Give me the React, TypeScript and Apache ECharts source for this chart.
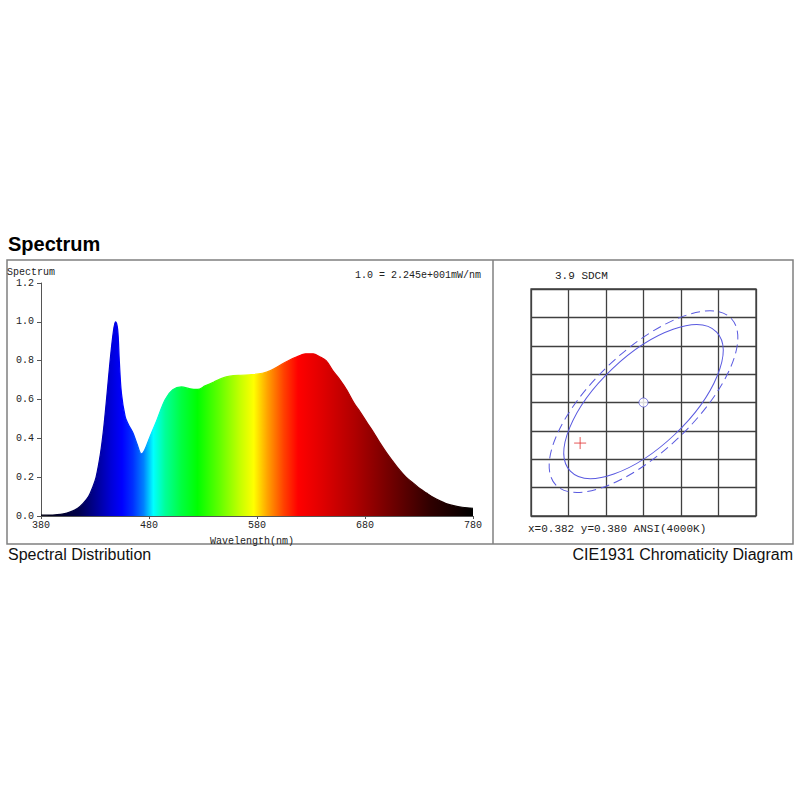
import { useEffect, useRef } from 'react';
import * as echarts from 'echarts';

// Relative spectral power (1.0 = 2.245e+001 mW/nm)
const wavelengths = [
  380, 390, 398, 404, 409, 414, 419, 424, 428, 431, 435, 438, 441, 444, 447, 449, 451, 452.5, 454.5, 458,
  461, 465, 469, 473, 476, 481, 487, 495, 502, 510, 518, 525, 532, 540, 548, 555, 565, 575, 585, 593,
  601, 609, 617, 625, 632, 638, 644, 650, 657, 663, 670, 675, 682, 688, 694, 700, 706, 712, 718, 725,
  731, 737, 743, 749, 755, 762, 770, 780,
];
const relativePower = [
  0.004, 0.005, 0.008, 0.015, 0.025, 0.04, 0.065, 0.1, 0.15, 0.2, 0.32, 0.45, 0.62, 0.8, 0.95, 1.0, 0.96, 0.8, 0.63, 0.51,
  0.47, 0.43, 0.37, 0.32, 0.34, 0.41, 0.49, 0.6, 0.65, 0.665, 0.655, 0.652, 0.67, 0.69, 0.71, 0.72, 0.725, 0.728, 0.735, 0.75,
  0.775, 0.8, 0.82, 0.835, 0.835, 0.82, 0.8, 0.75, 0.7, 0.65, 0.58, 0.54, 0.48, 0.43, 0.375, 0.325, 0.28, 0.237, 0.2, 0.168,
  0.14, 0.118, 0.097, 0.079, 0.064, 0.053, 0.045, 0.04,
];

const yTicks = [0, 0.2, 0.4, 0.6, 0.8, 1.0, 1.2];
const xTicks = [380, 480, 580, 680, 780];

// Chromaticity panel, in grid-cell units (6 x 8 cells, target at the centre)
// each ellipse: [centreX, centreY, majorEndX, majorEndY, minorEndX, minorEndY]
const innerEllipse = [3, 4.03, 4.95, 6.48, 3.83, 2.87];
const outerEllipse = [3, 4.03, 5.34, 6.96, 3.92, 2.74];
const targetPoint = [3, 4];
const measuredPoint = [1.31, 2.57];

const MONO = '"Liberation Mono", "DejaVu Sans Mono", monospace';
const SANS = '"Liberation Sans", Arial, sans-serif';

function ellipseRenderer(dash: number[] | null) {
  return (_params: unknown, api: any) => {
    const c = api.coord([api.value(0), api.value(1)]);
    const major = api.coord([api.value(2), api.value(3)]);
    const minor = api.coord([api.value(4), api.value(5)]);
    const rx = Math.hypot(major[0] - c[0], major[1] - c[1]);
    const ry = Math.hypot(minor[0] - c[0], minor[1] - c[1]);
    const rotation = Math.atan2(c[1] - major[1], major[0] - c[0]);
    return {
      type: 'ellipse',
      x: c[0],
      y: c[1],
      rotation,
      shape: { cx: 0, cy: 0, rx, ry },
      style: { fill: 'none', stroke: '#5a5ae0', lineWidth: 1, lineDash: dash || undefined },
      silent: true,
    };
  };
}

export default function App() {
  const chartRef = useRef<HTMLDivElement>(null);

  useEffect(() => {
    if (!chartRef.current) return;
    const chart = echarts.init(chartRef.current, undefined, { renderer: 'svg' });

    const spectrumData = wavelengths.map((w, i) => [w, relativePower[i]]);

    // visible-spectrum colours, offset = (nm - 380) / 400
    const spectrumStops = [
      { offset: 0, color: '#000010' },
      { offset: 0.05, color: '#000030' },
      { offset: 0.0875, color: '#00004c' },
      { offset: 0.125, color: '#000090' },
      { offset: 0.1625, color: '#0000d8' },
      { offset: 0.1875, color: '#0000ff' },
      { offset: 0.2125, color: '#0030ff' },
      { offset: 0.2375, color: '#0080ff' },
      { offset: 0.26, color: '#00ffff' },
      { offset: 0.2875, color: '#00ff99' },
      { offset: 0.325, color: '#00ff40' },
      { offset: 0.3625, color: '#00ff00' },
      { offset: 0.4125, color: '#60ff00' },
      { offset: 0.4625, color: '#c8ff00' },
      { offset: 0.4925, color: '#ffff00' },
      { offset: 0.525, color: '#ffa000' },
      { offset: 0.5625, color: '#ff4000' },
      { offset: 0.595, color: '#ff0000' },
      { offset: 0.65, color: '#e00000' },
      { offset: 0.725, color: '#b00000' },
      { offset: 0.8, color: '#780000' },
      { offset: 0.9, color: '#300000' },
      { offset: 1, color: '#000000' },
    ];

    const option: echarts.EChartsOption = {
      animation: false,
      backgroundColor: '#ffffff',
      grid: [
        { left: 41, top: 283, width: 432, height: 233, containLabel: false },
        {
          left: 531,
          top: 289,
          width: 225,
          height: 227,
          show: true,
          borderColor: '#404040',
          borderWidth: 1.3,
        },
      ],
      xAxis: [
        {
          gridIndex: 0,
          type: 'value',
          min: xTicks[0],
          max: xTicks[xTicks.length - 1],
          interval: 100,
          name: 'Wavelength(nm)',
          nameLocation: 'middle',
          nameGap: 20,
          nameTextStyle: { fontFamily: MONO, fontSize: 10, color: '#222', padding: [0, 10, 0, 0] },
          axisLine: { show: true, lineStyle: { color: '#555', width: 1 } },
          axisTick: { show: true, length: 3, lineStyle: { color: '#555' } },
          axisLabel: { fontFamily: MONO, fontSize: 10, color: '#222', margin: 4 },
          splitLine: { show: false },
        },
        {
          gridIndex: 1,
          type: 'value',
          min: 0,
          max: 6,
          interval: 1,
          axisLine: { show: false },
          axisTick: { show: false },
          axisLabel: { show: false },
          splitLine: { show: true, lineStyle: { color: '#404040', width: 1.3 } },
        },
      ],
      yAxis: [
        {
          gridIndex: 0,
          type: 'value',
          min: yTicks[0],
          max: yTicks[yTicks.length - 1],
          interval: 0.2,
          axisLine: { show: true, lineStyle: { color: '#555', width: 1 } },
          axisTick: { show: true, length: 4, lineStyle: { color: '#555' } },
          axisLabel: {
            fontFamily: MONO,
            fontSize: 10,
            color: '#222',
            margin: 7,
            formatter: (v: number) => v.toFixed(1),
          },
          splitLine: { show: false },
        },
        {
          gridIndex: 1,
          type: 'value',
          min: 0,
          max: 8,
          interval: 1,
          axisLine: { show: false },
          axisTick: { show: false },
          axisLabel: { show: false },
          splitLine: { show: true, lineStyle: { color: '#404040', width: 1.3 } },
        },
      ],
      series: [
        {
          name: 'Spectrum',
          type: 'line',
          xAxisIndex: 0,
          yAxisIndex: 0,
          data: spectrumData,
          smooth: 0.35,
          showSymbol: false,
          lineStyle: {
            width: 1.2,
            color: new echarts.graphic.LinearGradient(0, 0, 1, 0, spectrumStops),
          },
          areaStyle: { color: new echarts.graphic.LinearGradient(0, 0, 1, 0, spectrumStops), opacity: 1 },
          silent: true,
        },
        {
          name: 'SDCM outer',
          type: 'custom',
          coordinateSystem: 'cartesian2d',
          xAxisIndex: 1,
          yAxisIndex: 1,
          data: [outerEllipse],
          renderItem: ellipseRenderer([9, 5]) as any,
          silent: true,
        },
        {
          name: 'SDCM inner',
          type: 'custom',
          coordinateSystem: 'cartesian2d',
          xAxisIndex: 1,
          yAxisIndex: 1,
          data: [innerEllipse],
          renderItem: ellipseRenderer(null) as any,
          silent: true,
        },
        {
          name: 'Target',
          type: 'scatter',
          xAxisIndex: 1,
          yAxisIndex: 1,
          data: [targetPoint],
          symbol: 'circle',
          symbolSize: 9,
          itemStyle: { color: '#ffffff', borderColor: '#5a5ad8', borderWidth: 1 },
          silent: true,
          z: 5,
        },
        {
          name: 'Measured',
          type: 'scatter',
          xAxisIndex: 1,
          yAxisIndex: 1,
          data: [measuredPoint],
          symbol: 'path://M0,6L12,6M6,0L6,12',
          symbolSize: 12,
          itemStyle: { color: 'transparent', borderColor: '#e03030', borderWidth: 1 },
          silent: true,
          z: 5,
        },
      ],
      graphic: [
        {
          type: 'text',
          x: 8,
          y: 244,
          style: { text: 'Spectrum', font: `bold 20px ${SANS}`, fill: '#000', textVerticalAlign: 'middle' },
        },
        {
          type: 'rect',
          shape: { x: 7, y: 260, width: 786, height: 284 },
          style: { fill: 'none', stroke: '#808080', lineWidth: 1.5 },
          silent: true,
        },
        {
          type: 'line',
          shape: { x1: 493, y1: 260, x2: 493, y2: 544 },
          style: { stroke: '#808080', lineWidth: 1.5 },
          silent: true,
        },
        {
          type: 'text',
          x: 7,
          y: 272,
          style: { text: 'Spectrum', font: `10px ${MONO}`, fill: '#222', textVerticalAlign: 'middle' },
        },
        {
          type: 'text',
          x: 481,
          y: 275,
          style: {
            text: '1.0 = 2.245e+001mW/nm',
            font: `10px ${MONO}`,
            fill: '#222',
            textAlign: 'right',
            textVerticalAlign: 'middle',
          },
        },
        {
          type: 'text',
          x: 555,
          y: 276,
          style: { text: '3.9 SDCM', font: `11px ${MONO}`, fill: '#222', textVerticalAlign: 'middle' },
        },
        {
          type: 'text',
          x: 528,
          y: 529,
          style: {
            text: 'x=0.382 y=0.380 ANSI(4000K)',
            font: `11px ${MONO}`,
            fill: '#222',
            textVerticalAlign: 'middle',
          },
        },
        {
          type: 'text',
          x: 8,
          y: 554,
          style: { text: 'Spectral Distribution', font: `16px ${SANS}`, fill: '#111', textVerticalAlign: 'middle' },
        },
        {
          type: 'text',
          x: 793,
          y: 554,
          style: {
            text: 'CIE1931 Chromaticity Diagram',
            font: `16px ${SANS}`,
            fill: '#111',
            textAlign: 'right',
            textVerticalAlign: 'middle',
          },
        },
      ],
    };

    chart.setOption(option);

    return () => {
      chart.dispose();
    };
  }, []);

  return (
    <div
      ref={chartRef}
      style={{ position: 'absolute', left: 0, top: 0, width: '800px', height: '800px' }}
    />
  );
}
